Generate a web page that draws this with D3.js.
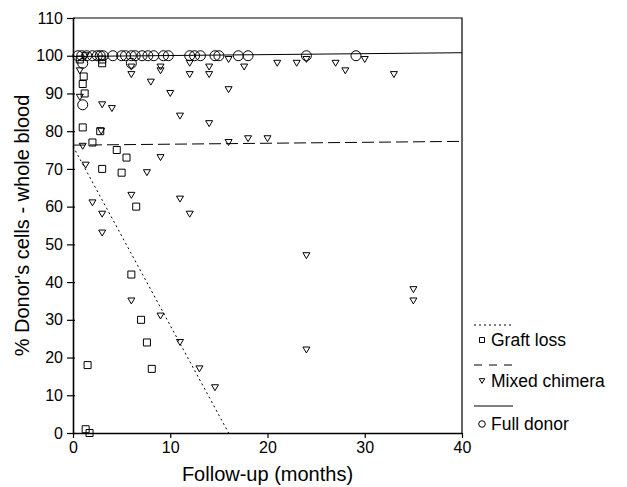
<!DOCTYPE html>
<html>
<head>
<meta charset="utf-8">
<script src="https://cdn.jsdelivr.net/npm/d3@7"></script>
<style>
  body { margin: 0; background: #fff; }
  svg { font-family: "Liberation Sans", Arial, sans-serif; }
</style>
</head>
<body>
<div id="chart"></div>
<script>
// Graft loss (squares)
const graftX = [0.7, 3.0, 3.0, 1.1, 1.0, 1.2, 1.0, 2.8, 2.0, 4.5, 5.5, 3.0, 5.0, 6.5, 6.0, 7.0, 7.6, 1.5, 8.1, 1.3, 1.7];
const graftY = [99, 99, 98, 94.5, 92.5, 90, 81, 80, 77, 75, 73, 70, 69, 60, 42, 30, 24, 18, 17, 1, 0];

// Mixed chimera (triangles)
const mixedX = [1.3, 0.7, 0.7, 1.0, 1.3, 2.0, 2.9, 3.0, 4.0, 3.0, 3.0, 6.0, 6.0, 6.0, 6.0, 7.6, 8.0, 9.0, 9.0, 9.0, 9.0,
  10.0, 11.0, 11.0, 11.0, 12.0, 12.0, 12.0, 13.0, 14.0, 14.0, 14.0, 14.6, 16.0, 16.0, 16.0, 17.6, 18.0, 20.0,
  21.0, 23.0, 24.0, 24.0, 24.0, 27.0, 28.0, 30.0, 33.0, 35.0, 35.0];
const mixedY = [100, 96, 89, 76, 71, 61, 80, 87, 86, 58, 53, 97, 95, 63, 35, 69, 93, 97, 96, 73, 31,
  90, 84, 62, 24, 98, 95, 58, 17, 97, 95, 82, 12, 99, 91, 77, 97, 78, 78,
  98, 98, 99, 47, 22, 98, 96, 99, 95, 38, 35];

// Full donor (circles)
const fullX = [0.5, 0.9, 1.4, 2.0, 2.5, 2.8, 3.1, 4.1, 5.0, 5.4, 6.0, 6.4, 7.1, 7.7, 8.3, 9.3, 9.8,
  12.0, 12.5, 13.1, 14.6, 15.0, 17.0, 18.0, 24.0, 29.1, 1.0, 1.0, 6.0];
const fullY = [100, 100, 100, 100, 100, 100, 100, 100, 100, 100, 100, 100, 100, 100, 100, 100, 100,
  100, 100, 100, 100, 100, 100, 100, 100, 100, 98, 87, 98];

// Fitted lines (end points)
const graftLine = [[0, 76], [16, 0]];
const mixedLine = [[0, 76.3], [40, 77.3]];
const fullLine = [[0, 99.8], [40, 100.8]];

const xTicks = [0, 10, 20, 30, 40];
const yTicks = [0, 10, 20, 30, 40, 50, 60, 70, 80, 90, 100, 110];
const legendLabels = ["Graft loss", "Mixed chimera", "Full donor"];

const W = 627, H = 487;
const svg = d3.select("#chart").append("svg").attr("width", W).attr("height", H);

const x = d3.scaleLinear().domain([0, 40]).range([73, 462]);
const y = d3.scaleLinear().domain([0, 110]).range([433, 18]);

// frame (top and right)
svg.append("path")
  .attr("d", `M${x(0)},${y(110)} H${x(40)} V${y(0)}`)
  .attr("fill", "none").attr("stroke", "#000").attr("stroke-width", 1.2);

// axes
const xAxis = svg.append("g")
  .attr("transform", `translate(0,${y(0)})`)
  .call(d3.axisBottom(x).tickValues(xTicks).tickSize(5).tickPadding(4).tickSizeOuter(0));
const yAxis = svg.append("g")
  .attr("transform", `translate(${x(0)},0)`)
  .call(d3.axisLeft(y).tickValues(yTicks).tickSize(6).tickPadding(4).tickSizeOuter(0));

[xAxis, yAxis].forEach(g => {
  g.select(".domain").attr("stroke-width", 1.6);
  g.selectAll(".tick line").attr("stroke-width", 1.2);
  g.selectAll("text").style("font-size", "16px").attr("fill", "#000");
});
yAxis.selectAll(".tick line").attr("x2", -6).attr("x1", 2);

// axis titles
svg.append("text")
  .attr("x", (x(0) + x(40)) / 2).attr("y", 481)
  .attr("text-anchor", "middle")
  .style("font-size", "20px")
  .text("Follow-up (months)");
svg.append("text")
  .attr("transform", `translate(29,${(y(0) + y(110)) / 2}) rotate(-90)`)
  .attr("text-anchor", "middle")
  .style("font-size", "20px")
  .text("% Donor's cells - whole blood");

// fitted lines
const line = d3.line().x(d => x(d[0])).y(d => y(d[1]));
svg.append("path").datum(graftLine).attr("d", line)
  .attr("fill", "none").attr("stroke", "#000").attr("stroke-width", 1).attr("stroke-dasharray", "2,3");
svg.append("path").datum(mixedLine).attr("d", line)
  .attr("fill", "none").attr("stroke", "#000").attr("stroke-width", 1).attr("stroke-dasharray", "12,5");
svg.append("path").datum(fullLine).attr("d", line)
  .attr("fill", "none").attr("stroke", "#000").attr("stroke-width", 1);

// marker shapes
function squarePath(cx, cy, s) {
  return `M${cx - s / 2},${cy - s / 2}h${s}v${s}h${-s}z`;
}
function triPath(cx, cy, s) {
  const h = s * 0.85;
  return `M${cx - s / 2},${cy - h / 2}h${s}L${cx},${cy + h / 2}z`;
}

const marks = svg.append("g").attr("fill", "none").attr("stroke", "#000").attr("stroke-width", 1);

marks.selectAll("path.sq")
  .data(d3.zip(graftX, graftY))
  .join("path").attr("class", "sq")
  .attr("d", d => squarePath(x(d[0]), y(d[1]), 7));

marks.selectAll("path.tri")
  .data(d3.zip(mixedX, mixedY))
  .join("path").attr("class", "tri")
  .attr("d", d => triPath(x(d[0]), y(d[1]), 7));

marks.selectAll("circle")
  .data(d3.zip(fullX, fullY))
  .join("circle")
  .attr("cx", d => x(d[0])).attr("cy", d => y(d[1])).attr("r", 5);

// legend
const lg = svg.append("g").attr("transform", "translate(474,0)");
const lineStyles = ["2,3", "8,7", null];
const lineY = [325, 365, 406];
const textY = [346, 387, 430];
legendLabels.forEach((lab, i) => {
  const l = lg.append("line")
    .attr("x1", 0).attr("x2", 39).attr("y1", lineY[i]).attr("y2", lineY[i])
    .attr("stroke", "#000").attr("stroke-width", 1);
  if (lineStyles[i]) l.attr("stroke-dasharray", lineStyles[i]);
  const cy = textY[i] - 6;
  const m = lg.append(i === 2 ? "circle" : "path")
    .attr("fill", "none").attr("stroke", "#000").attr("stroke-width", 1);
  if (i === 0) m.attr("d", squarePath(8, cy, 5));
  else if (i === 1) m.attr("d", triPath(8, cy, 5.5));
  else m.attr("cx", 8).attr("cy", cy).attr("r", 3.3);
  lg.append("text").attr("x", 17).attr("y", textY[i])
    .style("font-size", "17.5px").text(lab);
});
</script>
</body>
</html>
